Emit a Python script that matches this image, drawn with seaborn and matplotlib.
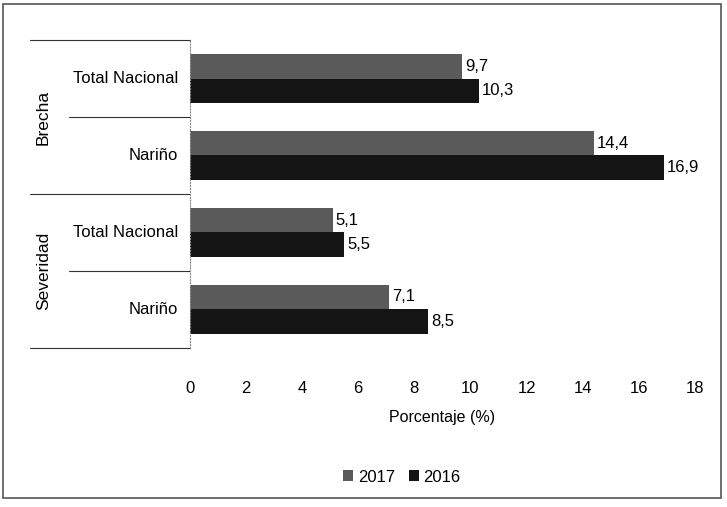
import pandas as pd
import matplotlib.pyplot as plt
import seaborn as sns
from matplotlib.patches import Rectangle

grupos = ["Brecha", "Brecha", "Severidad", "Severidad"]
zonas = ["Total Nacional", "Nariño", "Total Nacional", "Nariño"]
v2017 = [9.7, 14.4, 5.1, 7.1]
v2016 = [10.3, 16.9, 5.5, 8.5]
anios = ["2017", "2016"]

sns.set_style("white")
plt.rcParams['font.family'] = ['Liberation Sans', 'DejaVu Sans']
plt.rcParams['text.color'] = 'black'
plt.rcParams['xtick.color'] = 'black'
plt.rcParams['axes.labelcolor'] = 'black'

claves = [g + "|" + z for g, z in zip(grupos, zonas)]
df = pd.DataFrame({
    "clave": claves * 2,
    "anio": [anios[0]] * 4 + [anios[1]] * 4,
    "valor": v2017 + v2016,
})

fig = plt.figure(figsize=(7.27, 5.07), dpi=100)
ax = fig.add_axes([0.261, 0.314, 0.695, 0.607])
sns.barplot(data=df, y="clave", x="valor", hue="anio", orient="h",
            palette=["#5a5a5a", "#141414"], width=0.64, ax=ax,
            saturation=1, linewidth=0, legend=True)

for cont in ax.containers:
    ax.bar_label(cont, labels=[f"{v:.1f}".replace(".", ",") for v in cont.datavalues],
                 padding=2, fontsize=12)

ax.set_xlim(0, 18)
ax.set_xticks(range(0, 19, 2))
ax.tick_params(axis='x', labelsize=12, length=0, pad=24)
ax.set_yticks([])
ax.set_ylabel("")
ax.set_xlabel("Porcentaje (%)", fontsize=11.5, labelpad=10)
for s in ["top", "right", "bottom"]:
    ax.spines[s].set_visible(False)
ax.spines["left"].set_color("#888888")
ax.spines["left"].set_linestyle(":")

# etiquetas de categorias y lineas separadoras
for i, z in enumerate(zonas):
    ax.text(-0.023, 1 - (i + 0.5) / 4, z, transform=ax.transAxes,
            ha="right", va="center", fontsize=12)
for yy, x0 in [(1.0, -0.317), (0.75, -0.238), (0.5, -0.317), (0.25, -0.238), (0.0, -0.317)]:
    ax.plot([x0, 0], [yy, yy], transform=ax.transAxes, color="#333333",
            lw=0.8, clip_on=False)
ax.text(-0.29, 0.75, "Brecha", transform=ax.transAxes, rotation=90,
        ha="center", va="center", fontsize=12.5)
ax.text(-0.29, 0.25, "Severidad", transform=ax.transAxes, rotation=90,
        ha="center", va="center", fontsize=12.5)

ax.legend(loc="center", bbox_to_anchor=(0.42, -0.42), ncol=2, frameon=False,
          fontsize=12, handlelength=0.6, handleheight=0.6, columnspacing=0.8,
          handletextpad=0.3)

fig.patches.append(Rectangle((0.004, 0.018), 0.988, 0.975, transform=fig.transFigure,
                             fill=False, edgecolor="#555555", lw=1.2))

plt.savefig("out.png", dpi=100)
